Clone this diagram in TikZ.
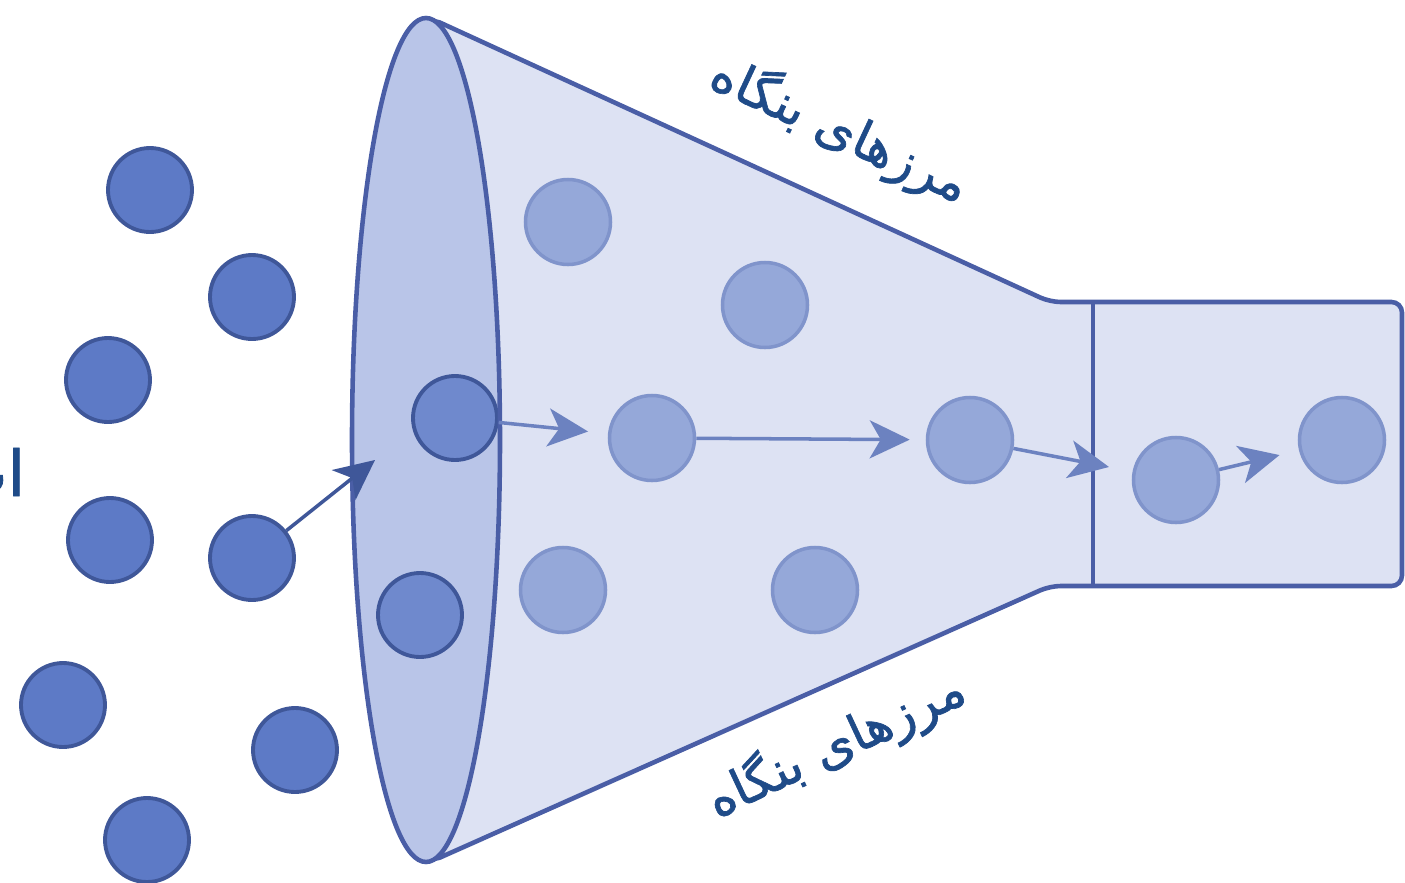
\documentclass[tikz,border=0pt]{standalone}
\usepackage{fontspec}
\newfontfamily\arabicfont[Script=Arabic,FakeBold=1.3]{DejaVu Sans}
\TeXXeTstate=1
\usetikzlibrary{arrows.meta,positioning}
\definecolor{cRim}{HTML}{4A5EA6}
\definecolor{cCone}{HTML}{DDE2F3}
\definecolor{cMouth}{HTML}{B9C5E8}
\definecolor{cOut}{HTML}{5D7AC6}
\definecolor{cOutRim}{HTML}{3F5799}
\definecolor{cIn}{HTML}{95A8D9}
\definecolor{cInRim}{HTML}{8094CB}
\definecolor{cArr}{HTML}{6C82C0}
\definecolor{cTxt}{HTML}{1F4B88}
\tikzset{
  outer/.style={circle,fill=cOut,draw=cOutRim,line width=1.1pt,inner sep=0pt,minimum size=8.4mm},
  mouthc/.style={circle,fill=cOut!80!cMouth,draw=cOutRim,line width=1.1pt,inner sep=0pt,minimum size=8.4mm},
  inner/.style={circle,fill=cIn,draw=cInRim,line width=1pt,inner sep=0pt,minimum size=8.5mm},
  rim/.style={draw=cRim,line width=1.3pt},
  arr/.style={-{Stealth[length=4mm,width=3.8mm,inset=1.1mm]},line width=1pt,cArr},
  lbl/.style={font=\arabicfont\fontsize{14.5}{18}\selectfont,text=cTxt,inner sep=0pt},
}
\begin{document}
\begin{tikzpicture}
  \useasboundingbox (0,0) rectangle (14.05,-8.83);
  % funnel
  \filldraw[rim,fill=cCone,rounded corners=3pt] (4.30,-0.18) -- (10.50,-3.02) -- (14.02,-3.02)
    -- (14.02,-5.86) -- (10.50,-5.86) -- (4.30,-8.62) -- cycle;
  \draw[rim] (10.93,-3.02) -- (10.93,-5.86);
  \fill[cMouth] (4.26,-4.40) ellipse [x radius=0.74, y radius=4.22];
  \node[mouthc] (m1) at (4.55,-4.18) {};
  \node[mouthc] (m2) at (4.20,-6.15) {};
  \draw[rim] (4.26,-4.40) ellipse [x radius=0.74, y radius=4.22];
  % particles outside
  \foreach \n/\x/\y in {1/1.50/-1.90,2/2.52/-2.97,3/1.08/-3.80,4/1.10/-5.40,
                        5/2.52/-5.58,6/0.63/-7.05,7/2.95/-7.50,8/1.47/-8.40}
    \node[outer] (o\n) at (\x,\y) {};
  % particles inside
  \foreach \n/\x/\y in {1/5.68/-2.22,2/7.65/-3.05,3/6.52/-4.38,4/5.63/-5.90,
                        5/8.15/-5.90,6/9.70/-4.40,7/11.76/-4.80,8/13.42/-4.40}
    \node[inner] (f\n) at (\x,\y) {};
  \coordinate (tip) at (3.75,-4.60);
  \draw[arr,cOutRim] (o5) -- (tip);
  \draw[arr,shorten >=2mm] (m1) -- (f3);
  \draw[arr,shorten >=1.6mm] (f3) -- (f6);
  \draw[arr,shorten >=2.4mm] (f6) -- (f7);
  \draw[arr,shorten >=2mm] (f7) -- (f8);
  \node[lbl,rotate=-25] (top) at (8.40,-1.30) {\beginR مرزهای بنگاه\endR};
  \node[lbl,rotate=25] (bot) at (8.36,-7.45) {\beginR مرزهای بنگاه\endR};
  \node[lbl,font=\arabicfont\fontsize{18}{20}\selectfont,anchor=base east] (cut) at (0.26,-4.96) {\beginR اب\endR};
\end{tikzpicture}
\end{document}
